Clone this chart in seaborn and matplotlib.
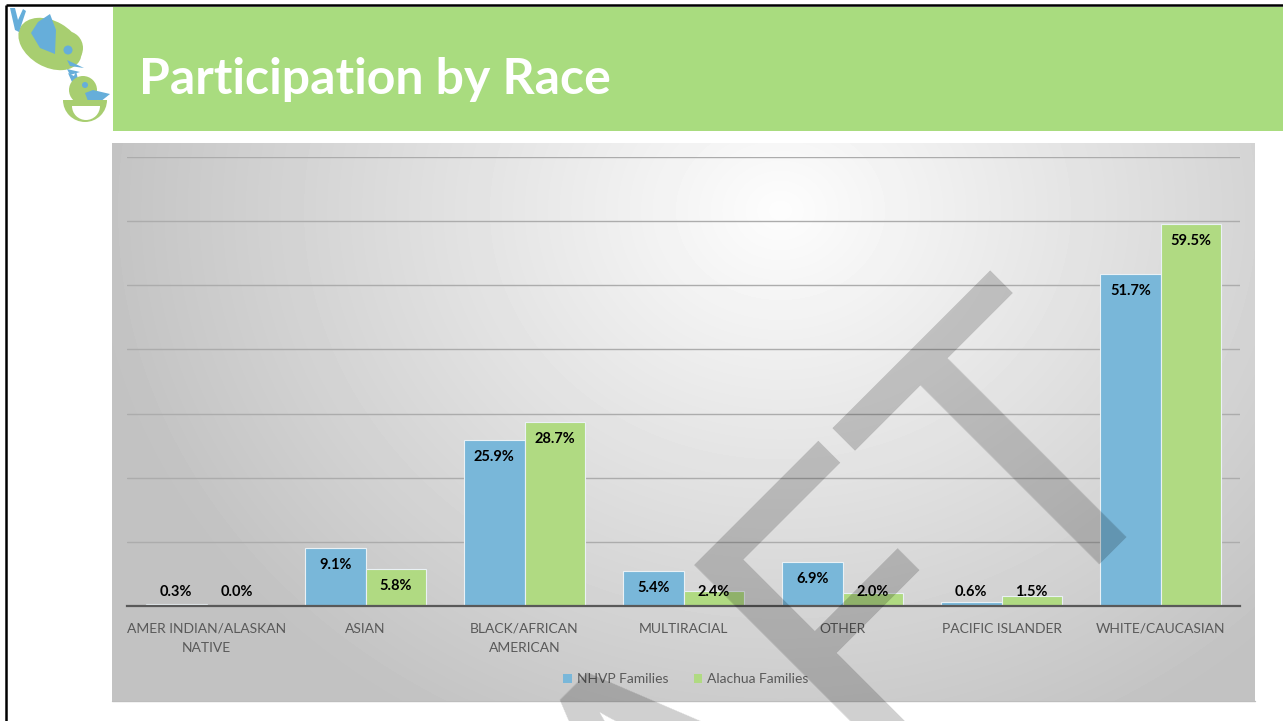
import numpy as np
import pandas as pd
import matplotlib
matplotlib.use("Agg")
import matplotlib.pyplot as plt
import seaborn as sns
from matplotlib.patches import Rectangle, Ellipse, Polygon, Circle, Wedge
from matplotlib.textpath import TextPath
from matplotlib.font_manager import FontProperties

# ---------------- data ----------------
categories = ["AMER INDIAN/ALASKAN\nNATIVE", "ASIAN", "BLACK/AFRICAN\nAMERICAN",
              "MULTIRACIAL", "OTHER", "PACIFIC ISLANDER", "WHITE/CAUCASIAN"]
nhvp = [0.3, 9.1, 25.9, 5.4, 6.9, 0.6, 51.7]
alachua = [0.0, 5.8, 28.7, 2.4, 2.0, 1.5, 59.5]
series = ["NHVP Families", "Alachua Families"]
colors = ["#79B7D9", "#B0DA82"]
title = "Participation by Race"
watermark = "DRAFT"

W, H, DPI = 1283, 721, 100
sns.set_theme(style="white")
plt.rcParams['font.family'] = ['Lato', 'DejaVu Sans']

fig = plt.figure(figsize=(W / DPI, H / DPI), dpi=DPI)
fig.patch.set_facecolor('white')


def fx(px):
    return px / W


def fy(py):
    return 1 - py / H


# ---------------- slide decoration (pixel coordinates) ----------------
bg = fig.add_axes([0, 0, 1, 1], zorder=-5)
bg.set_xlim(0, W)
bg.set_ylim(H, 0)
bg.axis('off')
bg.plot([6, 6], [5, H], color='black', lw=1.8, solid_capstyle='butt')
bg.plot([6, W], [5, 5], color='black', lw=1.8, solid_capstyle='butt')
bg.add_patch(Rectangle((113, 7), W - 113, 124, facecolor='#A9DC7F', edgecolor='none'))
bg.text(139, 79, title, color='white', fontsize=36, fontweight='bold',
        va='center', ha='left')

# logo (two birds)
lg, lb = '#A8CE70', '#66AEDA'
bg.add_patch(Ellipse((50, 44), 68, 46, angle=30, facecolor=lg, edgecolor='none'))
bg.add_patch(Circle((66, 48), 17, facecolor=lg, edgecolor='none'))
bg.add_patch(Polygon([(50, 14), (56, 30), (55, 54), (40, 48), (31, 33), (38, 22)],
                     facecolor=lb, edgecolor='none'))
bg.add_patch(Polygon([(10, 8), (15, 8), (18, 20), (23, 9), (26, 11), (19, 32), (15, 30)],
                     facecolor=lb, edgecolor='none'))
bg.add_patch(Circle((68, 50), 4.5, facecolor=lb, edgecolor='none'))
bg.add_patch(Polygon([(67, 60), (84, 68), (70, 66)], facecolor=lb, edgecolor='none'))
bg.add_patch(Polygon([(67, 69), (80, 72), (70, 75)], facecolor=lb, edgecolor='none'))
bg.add_patch(Polygon([(68, 73), (74, 76), (76, 71), (79, 83), (72, 82)],
                     facecolor=lb, edgecolor='none'))
bg.add_patch(Circle((83, 90), 14, facecolor=lg, edgecolor='none'))
bg.add_patch(Circle((85, 85), 3, facecolor=lb, edgecolor='none'))
bg.add_patch(Polygon([(85, 93), (93, 90), (110, 94), (100, 102), (88, 101)],
                     facecolor=lb, edgecolor='none'))
bg.add_patch(Wedge((85, 100), 22, 0, 180, facecolor=lg, edgecolor='none'))
bg.add_patch(Wedge((86, 106), 14, 0, 180, facecolor='white', edgecolor='none'))

# ---------------- chart area gradient ----------------
cx0, cy0, cx1, cy1 = 112, 143, 1255, 701
ca = fig.add_axes([fx(cx0), fy(cy1), fx(cx1) - fx(cx0), fy(cy0) - fy(cy1)], zorder=-4)
xs = np.arange(cx0, cx1)
ys = np.arange(cy0, cy1)
X, Y = np.meshgrid(xs, ys)
r = np.sqrt(((X - 780) / 700.0) ** 2 + ((Y - 210) / 600.0) ** 2)
val = np.clip(253 - 60 * r, 194, 253)
ca.imshow(val, cmap='gray', vmin=0, vmax=255, aspect='auto', interpolation='bilinear')
ca.axis('off')
bg.plot([cx0, cx1], [cy1, cy1], color='#BDBDBD', lw=1)
# legend panel
bg.add_patch(Rectangle((543, 665), 283, 28, facecolor='white', alpha=0.25,
                       edgecolor='none'))

# ---------------- main bar chart ----------------
ax = fig.add_axes([fx(127), fy(606), fx(1240) - fx(127), fy(157) - fy(606)], zorder=1)
ax.set_facecolor('none')
df = pd.DataFrame({
    'category': categories * 2,
    'series': [series[0]] * len(categories) + [series[1]] * len(categories),
    'value': nhvp + alachua,
})
sns.barplot(data=df, x='category', y='value', hue='series', hue_order=series,
            palette=colors, saturation=1, width=0.76, errorbar=None,
            edgecolor='#EAF1F5', linewidth=0.8, legend=False, ax=ax)
ax.set_ylim(0, 70)
ax.set_xlim(-0.5, len(categories) - 0.5)
ax.set_yticks(np.arange(0, 71, 10))
ax.set_yticklabels([])
ax.yaxis.grid(True, color='#ACACAC', lw=1)
ax.set_axisbelow(True)
ax.set_xlabel('')
ax.set_ylabel('')
for s in ['top', 'left', 'right']:
    ax.spines[s].set_visible(False)
ax.spines['bottom'].set_color('#595959')
ax.spines['bottom'].set_linewidth(1.6)
ax.tick_params(left=False, bottom=False, axis='both')
ax.tick_params(axis='x', labelsize=10, labelcolor='#595959', pad=6)
for t in ax.get_xticklabels():
    t.set_linespacing(1.7)

for p in ax.patches:
    v = p.get_height()
    xc = p.get_x() + p.get_width() / 2
    ax.text(xc, max(v - 2.65, 2.18), f"{v:.1f}%", ha='center', va='center',
            fontsize=10.5, fontweight='bold', color='black', zorder=5)

handles = [Rectangle((0, 0), 1, 1, facecolor=c, edgecolor='none') for c in colors]
fig.legend(handles, series, loc='center', bbox_to_anchor=(fx(686), fy(679)), ncol=2,
           frameon=False, fontsize=10, labelcolor='#595959', handlelength=0.6,
           handleheight=0.6, handletextpad=0.4, columnspacing=1.8)

# ---------------- watermark ----------------
fp = FontProperties(family='Lato')
cap_ratio = TextPath((0, 0), "T", size=100, prop=fp).get_extents().y1 / 100.0
size_px = 285 / cap_ratio
ext_all = TextPath((0, 0), watermark, size=size_px, prop=fp).get_extents()
ext_T = TextPath((0, 0), watermark[-1], size=size_px, prop=fp).get_extents()
tc = ext_all.x1 - ext_T.width / 2
ang = np.deg2rad(45)
tx, ty = 1103.5, H - 551 + 26.5
axp = tx - tc * np.cos(ang)
ayp = ty - tc * np.sin(ang)
fig.text(axp / W, ayp / H, watermark, rotation=45, rotation_mode='anchor',
         ha='left', va='baseline', fontproperties=fp, fontsize=size_px * 72 / DPI,
         color='black', alpha=0.19, zorder=20)

fig.savefig('out.png', dpi=DPI)
